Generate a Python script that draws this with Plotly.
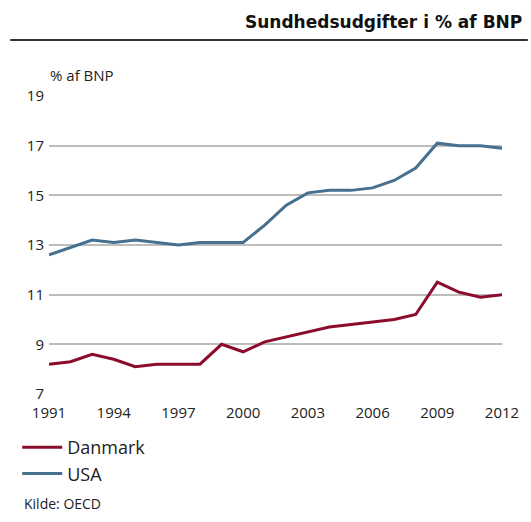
import plotly.graph_objects as go

years = list(range(1991, 2013))
danmark = [8.2, 8.3, 8.6, 8.4, 8.1, 8.2, 8.2, 8.2, 9.0, 8.7, 9.1, 9.3, 9.5, 9.7,
           9.8, 9.9, 10.0, 10.2, 11.5, 11.1, 10.9, 11.0]
usa = [12.6, 12.9, 13.2, 13.1, 13.2, 13.1, 13.0, 13.1, 13.1, 13.1, 13.8, 14.6,
       15.1, 15.2, 15.2, 15.3, 15.6, 16.1, 17.1, 17.0, 17.0, 16.9]
x_ticks = [1991, 1994, 1997, 2000, 2003, 2006, 2009, 2012]
y_ticks = [7, 9, 11, 13, 15, 17, 19]

FONT = "Open Sans"
PH = 298.0  # plot height px
PW = 456.0  # plot width px


def py(pix):
    return (394 - pix) / PH


def px(pix):
    return (pix - 49) / PW


fig = go.Figure()
fig.add_trace(go.Scatter(x=years, y=danmark, mode="lines", name="Danmark",
                         line=dict(color="#8c0c2c", width=3)))
fig.add_trace(go.Scatter(x=years, y=usa, mode="lines", name="USA",
                         line=dict(color="#47708f", width=3)))

fig.update_layout(
    width=531, height=522,
    margin=dict(l=49, r=26, t=96, b=128),
    paper_bgcolor="white", plot_bgcolor="white",
    font=dict(family=FONT, color="#222", size=14),
    showlegend=True,
    legend=dict(x=px(17), y=py(429), xanchor="left", yanchor="top",
                font=dict(size=18, color="#222"), tracegroupgap=0,
                itemwidth=40, bgcolor="rgba(0,0,0,0)"),
    xaxis=dict(range=[1991, 2012], tickvals=x_ticks, showgrid=False,
               zeroline=False, showline=False, ticks="", ticklabelstandoff=8,
               tickfont=dict(size=15, color="#222")),
    yaxis=dict(range=[7, 19], tickvals=y_ticks, showgrid=True,
               gridcolor="#bdbdbd", gridwidth=2, zeroline=False,
               showline=False, ticks="", ticklabelstandoff=4,
               tickfont=dict(size=15, color="#222")),
)
fig.add_annotation(text="<b>Sundhedsudgifter i % af BNP</b>", xref="paper", yref="paper",
                   x=px(527), y=py(22), xanchor="right", yanchor="middle",
                   showarrow=False, font=dict(family="DejaVu Sans", size=17, color="#111"))
fig.add_shape(type="line", xref="paper", yref="paper",
              x0=px(10), x1=px(531), y0=py(40), y1=py(40),
              line=dict(color="#333", width=2))
fig.add_annotation(text="% af BNP", xref="paper", yref="paper", x=px(48), y=py(75),
                   xanchor="left", yanchor="middle", showarrow=False,
                   font=dict(size=15, color="#222"))
fig.add_annotation(text="Kilde: OECD", xref="paper", yref="paper", x=px(22),
                   y=py(503), xanchor="left", yanchor="middle", showarrow=False,
                   font=dict(size=14, color="#222"))
fig.write_html("out.html", config={"displayModeBar": False},
               post_script="document.body.style.margin='0';document.body.style.padding='0';")
